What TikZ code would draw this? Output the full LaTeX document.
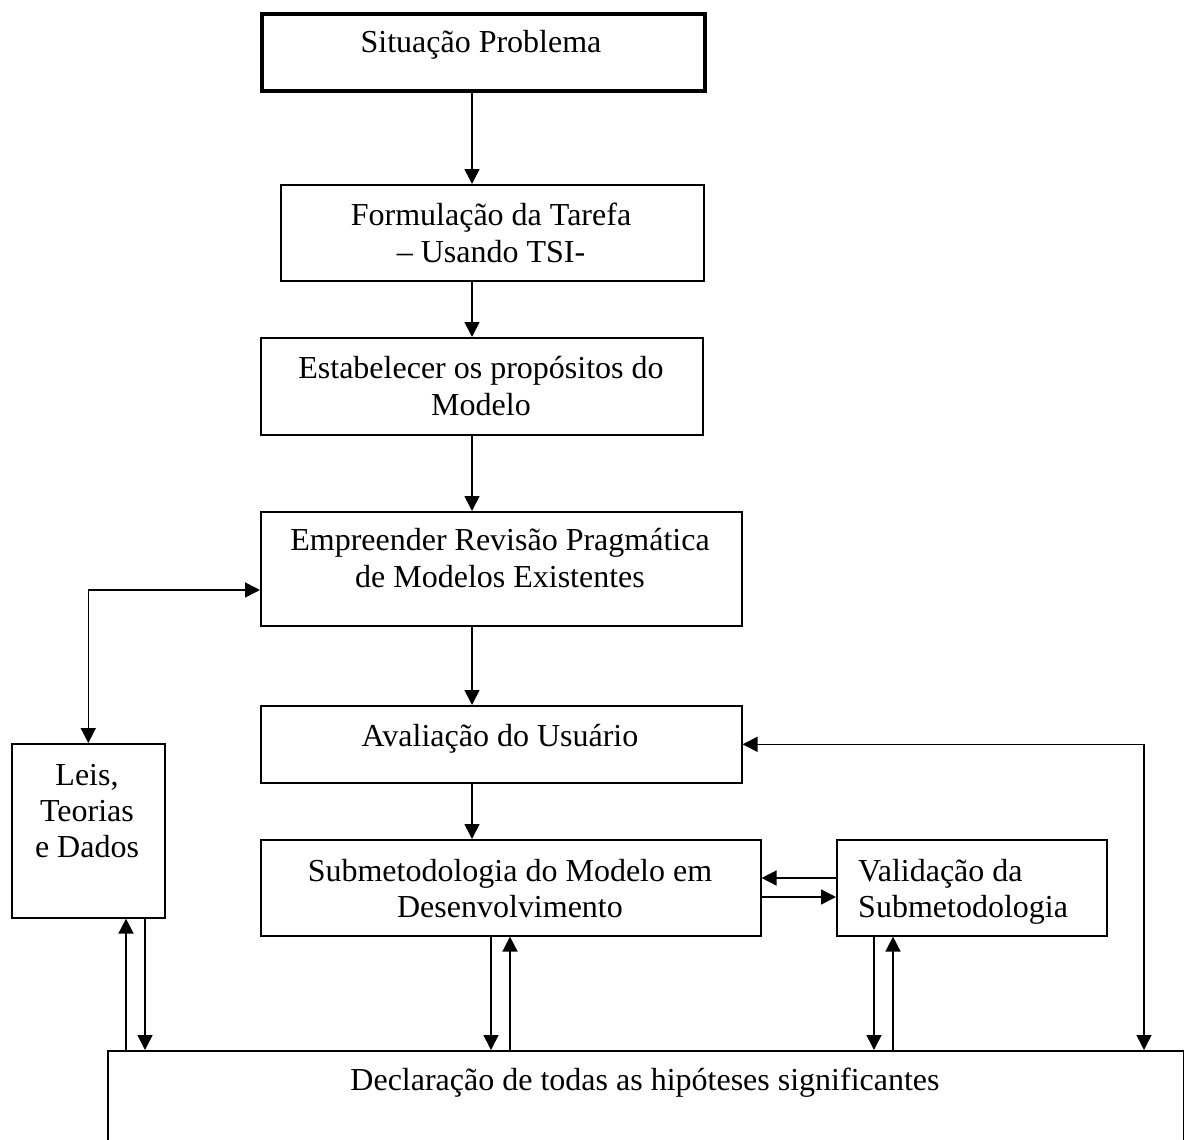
\documentclass[tikz,border=0pt]{standalone}
\usepackage{fontspec}
\setmainfont{Liberation Serif}
\usetikzlibrary{arrows.meta}
\begin{document}
\begin{tikzpicture}[x=1pt,y=-1pt,
  box/.style={draw, line width=1.6pt, inner sep=0pt, anchor=north west},
  topbox/.style={box, line width=4pt},
  lbl/.style={anchor=base, inner sep=0pt, font=\fontsize{32}{37}\selectfont},
  tip/.style={-{Triangle[length=15pt,width=15pt]}},
  arr/.style={line width=1.6pt, tip},
  arrboth/.style={line width=1.6pt, {Triangle[length=15pt,width=15pt]}-{Triangle[length=15pt,width=15pt]}}
]
\useasboundingbox (0,0) rectangle (1184,1140);
\clip (0,0) rectangle (1184,1140);

% boxes
\node[topbox, minimum width=443pt, minimum height=77pt] (b1) at (260,12) {};
\node[box, minimum width=423pt, minimum height=96pt]  (b2) at (280,184) {};
\node[box, minimum width=442pt, minimum height=97pt]  (b3) at (260,337) {};
\node[box, minimum width=481pt, minimum height=114pt] (b4) at (260,511) {};
\node[box, minimum width=481pt, minimum height=77pt]  (b5) at (260,705) {};
\node[box, minimum width=500pt, minimum height=96pt]  (b6) at (260,839) {};
\node[box, minimum width=270pt, minimum height=96pt]  (b7) at (836,839) {};
\node[box, minimum width=153pt, minimum height=174pt] (leis) at (11,743) {};
\node[box, minimum width=1076pt, minimum height=200pt] (decl) at (107,1050) {};

% texts
\node[lbl] (t1)  at (481,53)  {Situação Problema};
\node[lbl] (t2a) at (491,225) {Formulação da Tarefa};
\node[lbl] (t2b) at (491,262) {– Usando TSI-};
\node[lbl] (t3a) at (481,378) {Estabelecer os propósitos do};
\node[lbl] (t3b) at (481,415) {Modelo};
\node[lbl] (t4a) at (500,550) {Empreender Revisão Pragmática};
\node[lbl] (t4b) at (500,587) {de Modelos Existentes};
\node[lbl] (t5)  at (500,746) {Avaliação do Usuário};
\node[lbl] (t6a) at (510,881) {Submetodologia do Modelo em};
\node[lbl] (t6b) at (510,917) {Desenvolvimento};
\node[lbl, anchor=base west] (t7a) at (858,881) {Validação da};
\node[lbl, anchor=base west] (t7b) at (858,917) {Submetodologia};
\node[lbl] (tla) at (87,785) {Leis,};
\node[lbl] (tlb) at (87,821) {Teorias};
\node[lbl] (tlc) at (87,857) {e Dados};
\node[lbl] (td)  at (645,1090) {Declaração de todas as hipóteses significantes};

% guide coordinates for connector positions
\coordinate (mx) at (472,0);
\coordinate (ly) at (0,590);
\coordinate (rx) at (1144,0);
\coordinate (xa) at (126,0);
\coordinate (xb) at (145,0);
\coordinate (xc) at (491,0);
\coordinate (xd) at (510,0);
\coordinate (xe) at (874,0);
\coordinate (xf) at (893,0);
\coordinate (ya) at (0,878);
\coordinate (yb) at (0,897);

% main chain
\draw[arr] (b1.south -| mx) -- (b2.north -| mx);
\draw[arr] (b2.south -| mx) -- (b3.north -| mx);
\draw[arr] (b3.south -| mx) -- (b4.north -| mx);
\draw[arr] (b4.south -| mx) -- (b5.north -| mx);
\draw[arr] (b5.south -| mx) -- (b6.north -| mx);

% side loops
\draw[arrboth] (b4.west |- ly) -| (leis.north);
\draw[arrboth] (b5.east) -| (decl.north -| rx);

% between the two sub-methodology boxes
\draw[arr] (b7.west |- ya) -- (b6.east |- ya);
\draw[arr] (b6.east |- yb) -- (b7.west |- yb);

% links to the assumptions box
\draw[arr] (decl.north -| xa) -- (leis.south -| xa);
\draw[arr] (leis.south -| xb) -- (decl.north -| xb);
\draw[arr] (b6.south -| xc) -- (decl.north -| xc);
\draw[arr] (decl.north -| xd) -- (b6.south -| xd);
\draw[arr] (b7.south -| xe) -- (decl.north -| xe);
\draw[arr] (decl.north -| xf) -- (b7.south -| xf);
\end{tikzpicture}
\end{document}
